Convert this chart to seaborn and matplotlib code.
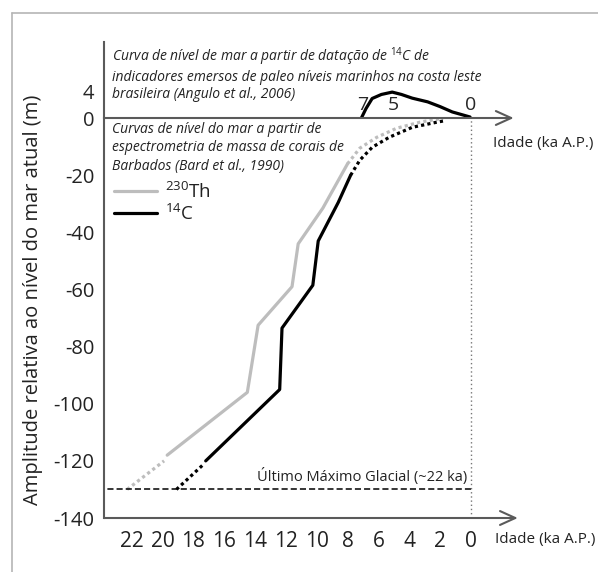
import matplotlib
matplotlib.use('Agg')
import matplotlib.pyplot as plt
import seaborn as sns
from matplotlib.lines import Line2D

# Angulo et al. (2006) - costa leste brasileira (ka A.P., m)
angulo_idade = [7.1, 6.8, 6.4, 5.8, 5.1, 4.5, 3.8, 2.8, 2.0, 1.2, 0.05]
angulo_nivel = [0.0, 1.4, 2.9, 3.5, 3.85, 3.5, 2.95, 2.4, 1.7, 0.9, 0.15]

# Bard et al. (1990) - 230Th
th_idade = [19.7, 14.5, 13.8, 11.6, 11.2, 9.6, 8.0]
th_nivel = [-118, -96, -72.5, -59, -44, -31.5, -16.0]
th_idade_antiga = [22.3, 19.9]
th_nivel_antiga = [-130, -120]
th_idade_recente = [8.0, 7.2, 6.1, 4.8, 3.3, 1.8]
th_nivel_recente = [-16.0, -10.5, -6.7, -3.5, -1.4, 0.0]

# Bard et al. (1990) - 14C
c14_idade = [17.2, 12.4, 12.25, 10.25, 9.9, 8.6, 7.8]
c14_nivel = [-120, -95, -73.5, -58.5, -43, -29.5, -20.0]
c14_idade_antiga = [19.1, 17.3]
c14_nivel_antiga = [-130, -121]
c14_idade_recente = [7.8, 7.2, 6.4, 5.3, 3.8, 2.2, 1.8]
c14_nivel_recente = [-20.0, -14.7, -10.2, -6.7, -3.2, -1.4, -1.0]

lgm_nivel = -130

xticks_main = [22, 20, 18, 16, 14, 12, 10, 8, 6, 4, 2, 0]
yticks_main = [-140, -120, -100, -80, -60, -40, -20]
xticks_top = [7, 5, 0]
yticks_top = [0, 4]

cinza = '#bdbdbd'
eixo = '#5a5a5a'

sns.set_style('white')
plt.rcParams['font.family'] = ['Open Sans', 'DejaVu Sans']
plt.rcParams['mathtext.fontset'] = 'custom'
plt.rcParams['mathtext.rm'] = 'Open Sans'
plt.rcParams['text.color'] = '#222222'
plt.rcParams['axes.unicode_minus'] = False

fig = plt.figure(figsize=(5.98, 5.72), dpi=100)
ax = fig.add_axes([0.1739, 0.0944, 0.692, 0.699])
ax_top = fig.add_axes([0.1739, 0.7937, 0.692, 0.1329])
xlim = (23.8, -3.05)

# curvas principais
sns.lineplot(x=th_idade, y=th_nivel, ax=ax, color=cinza, lw=2.3, sort=False)
sns.lineplot(x=th_idade_antiga, y=th_nivel_antiga, ax=ax, color=cinza, lw=2.3, sort=False, linestyle=(0, (1, 1)))
sns.lineplot(x=th_idade_recente, y=th_nivel_recente, ax=ax, color=cinza, lw=2.3, sort=False, linestyle=(0, (1, 1)))
sns.lineplot(x=c14_idade, y=c14_nivel, ax=ax, color='black', lw=2.3, sort=False)
sns.lineplot(x=c14_idade_antiga, y=c14_nivel_antiga, ax=ax, color='black', lw=2.3, sort=False, linestyle=(0, (1, 1)))
sns.lineplot(x=c14_idade_recente, y=c14_nivel_recente, ax=ax, color='black', lw=2.3, sort=False, linestyle=(0, (1, 1)))

ax.hlines(lgm_nivel, 0, xlim[0], color='black', lw=1.1, linestyles=(0, (4, 2)))
ax.axvline(0, color='#777777', lw=1, linestyle=(0, (1, 2)))
ax.text(0.25, lgm_nivel + 1.5, 'Último Máximo Glacial (~22 ka)', ha='right', va='bottom', fontsize=10.5)

ax.set_xlim(xlim)
ax.set_ylim(-140, 0)
ax.set_xticks(xticks_main)
ax.set_yticks(yticks_main)
ax.tick_params(axis='both', direction='out', length=5, width=1.3, color=eixo, labelcolor='#222222')
ax.tick_params(axis='x', labelsize=15, pad=4)
ax.tick_params(axis='y', labelsize=14.5, pad=2)
for s in ['top', 'right', 'bottom']:
    ax.spines[s].set_visible(False)
ax.spines['left'].set_color(eixo)
ax.spines['left'].set_linewidth(1.5)
ax.annotate('', xy=(1, 0), xytext=(0, 0), xycoords='axes fraction', annotation_clip=False,
            arrowprops=dict(arrowstyle='->, head_length=1.1, head_width=0.5', color=eixo, lw=1.5,
                            shrinkA=0, shrinkB=0))
ax.set_xlabel('')
ax.set_ylabel('')
ax.text(0.944, -0.055, 'Idade (ka A.P.)', transform=ax.transAxes, ha='left', va='center', fontsize=11)
ax.text(0.94, 0.9375, 'Idade (ka A.P.)', transform=ax.transAxes, ha='left', va='center', fontsize=11)

ax.text(0.019, 0.99, 'Curvas de nível do mar a partir de\nespectrometria de massa de corais de\nBarbados (Bard et al., 1990)',
        transform=ax.transAxes, ha='left', va='top', fontsize=10, style='italic', linespacing=1.3)

handles = [Line2D([], [], color=cinza, lw=2.3), Line2D([], [], color='black', lw=2.3)]
ax.legend(handles, [r'$^{230}$Th', r'$^{14}$C'], loc='upper left', bbox_to_anchor=(0.024, 0.8425),
          frameon=False, handlelength=2.3, handletextpad=0.4, labelspacing=0.05, borderpad=0,
          borderaxespad=0, fontsize=13.5)

# painel superior (Angulo et al., 2006)
ax_top.patch.set_alpha(0)
sns.lineplot(x=angulo_idade, y=angulo_nivel, ax=ax_top, color='black', lw=2.3, sort=False)
ax_top.set_xlim(xlim)
ax_top.set_ylim(0, 11.3)
ax_top.set_xticks(xticks_top)
ax_top.set_yticks(yticks_top)
ax_top.tick_params(axis='x', direction='in', length=5, width=1.2, color=eixo, labelsize=14, pad=-16)
ax_top.tick_params(axis='y', direction='out', length=5, width=1.3, color=eixo, labelsize=14.5, pad=2)
for s in ['top', 'right', 'bottom']:
    ax_top.spines[s].set_visible(False)
ax_top.spines['left'].set_color(eixo)
ax_top.spines['left'].set_linewidth(1.5)
ax_top.annotate('', xy=(0.99, 0), xytext=(0, 0), xycoords='axes fraction', annotation_clip=False,
                arrowprops=dict(arrowstyle='->, head_length=1.1, head_width=0.5', color=eixo, lw=1.5,
                                shrinkA=0, shrinkB=0))
ax_top.set_xlabel('')
ax_top.set_ylabel('')
ax_top.text(0.019, 0.96, 'Curva de nível de mar a partir de datação de $^{14}$C de\nindicadores emersos de paleo níveis marinhos na costa leste\nbrasileira (Angulo et al., 2006)',
            transform=ax_top.transAxes, ha='left', va='top', fontsize=10, style='italic', linespacing=1.22)

fig.text(33 / 598, 0.4755, 'Amplitude relativa ao nível do mar atual (m)', rotation=90,
         ha='center', va='center', fontsize=14.5)

# moldura
fig.add_artist(Line2D([12 / 598, 12 / 598], [0, 1 - 13 / 572], transform=fig.transFigure, color='#b5b5b5', lw=1.2))
fig.add_artist(Line2D([12 / 598, 1], [1 - 13 / 572, 1 - 13 / 572], transform=fig.transFigure, color='#b5b5b5', lw=1.2))

fig.savefig('out.png', dpi=100, facecolor='white')
